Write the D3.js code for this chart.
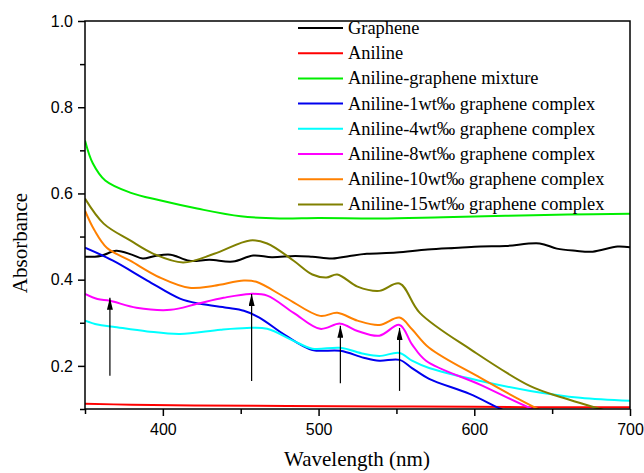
<!DOCTYPE html>
<html lang="en">
<head>
<meta charset="utf-8">
<title>UV-vis absorbance</title>
<script src="https://cdn.jsdelivr.net/npm/d3@7"></script>
<style>
  html, body { margin: 0; padding: 0; background: white; }
  svg text { fill: black; }
</style>
</head>
<body>
<script>
// data
var seriesNames = ["Graphene", "Aniline", "Aniline-graphene mixture",
  "Aniline-1wt\u2030 graphene complex", "Aniline-4wt\u2030 graphene complex",
  "Aniline-8wt\u2030 graphene complex", "Aniline-10wt\u2030 graphene complex",
  "Aniline-15wt\u2030 graphene complex"];
var seriesColors = ["#000000", "#ff0000", "#00ee00", "#0000ee", "#00ffff", "#ff00ff", "#ff8000", "#808000"];

var graphene = [[350,0.453],[360,0.455],[370,0.467],[380,0.458],[387,0.449],[395,0.455],[405,0.458],[417,0.444],[430,0.446],[445,0.442],[458,0.456],[470,0.452],[485,0.455],[496,0.453],[509,0.449],[520,0.455],[531,0.460],[550,0.463],[570,0.470],[590,0.474],[604,0.477],[620,0.478],[642,0.484],[653,0.472],[665,0.467],[676,0.465],[692,0.477],[700,0.475]];
var aniline = [[350,0.112],[380,0.110],[420,0.108],[480,0.107],[540,0.106],[600,0.105],[650,0.104],[700,0.104]];
var mixture = [[350,0.723],[355,0.670],[363,0.630],[379,0.602],[398,0.584],[422,0.565],[450,0.547],[475,0.542],[500,0.543],[539,0.542],[580,0.545],[620,0.548],[660,0.551],[700,0.553]];
var c1 = [[350,0.474],[368,0.444],[390,0.398],[411,0.356],[424,0.344],[441,0.335],[452,0.328],[462,0.312],[479,0.270],[496,0.237],[514,0.235],[529,0.219],[539,0.212],[552,0.214],[560,0.195],[571,0.170],[597,0.135],[617,0.100],[630,0.080]];
var c4 = [[350,0.305],[358,0.296],[368,0.291],[390,0.280],[411,0.274],[437,0.284],[454,0.288],[467,0.286],[484,0.258],[496,0.240],[514,0.242],[529,0.228],[539,0.223],[552,0.230],[560,0.212],[571,0.195],[604,0.165],[636,0.142],[668,0.126],[700,0.119]];
var c8 = [[350,0.367],[358,0.355],[366,0.351],[383,0.335],[405,0.330],[422,0.344],[439,0.358],[456,0.367],[467,0.363],[484,0.323],[501,0.286],[514,0.298],[525,0.281],[539,0.270],[552,0.295],[560,0.250],[569,0.212],[604,0.156],[636,0.102],[650,0.085]];
var c10 = [[350,0.560],[356,0.515],[364,0.474],[379,0.444],[398,0.405],[417,0.381],[433,0.386],[452,0.398],[460,0.395],[479,0.358],[501,0.316],[512,0.323],[525,0.305],[539,0.295],[552,0.312],[560,0.285],[571,0.242],[604,0.172],[627,0.126],[644,0.095],[655,0.080]];
var c15 = [[350,0.588],[362,0.530],[379,0.491],[394,0.460],[413,0.440],[433,0.460],[456,0.491],[467,0.484],[484,0.444],[496,0.412],[505,0.405],[512,0.412],[525,0.384],[539,0.374],[552,0.391],[565,0.323],[599,0.235],[636,0.153],[657,0.126],[681,0.100],[695,0.085]];
var seriesData = [graphene, aniline, mixture, c1, c4, c8, c10, c15];

// arrows: wavelength, tail value, head value
var arrowX = [366, 457, 514, 552];
var arrowFrom = [0.177, 0.165, 0.160, 0.142];
var arrowTo = [0.358, 0.367, 0.293, 0.288];

var xTicks = [400, 500, 600, 700];
var yTicks = [0.2, 0.4, 0.6, 0.8, 1.0];

var w = 644, h = 473;
var mLeft = 85, mRight = 630, mTop = 21, mBottom = 409;

var svg = d3.select("body").append("svg")
  .attr("width", w).attr("height", h);

var x = d3.scaleLinear().domain([350, 700]).range([mLeft, mRight]);
var y = d3.scaleLinear().domain([0.1, 1.0]).range([mBottom, mTop]);

svg.append("clipPath").attr("id", "plotclip")
  .append("rect").attr("x", mLeft).attr("y", mTop)
  .attr("width", mRight - mLeft).attr("height", mBottom - mTop);

// axes
var xAxis = d3.axisBottom(x).tickValues(xTicks).tickSize(7).tickPadding(8).tickFormat(d3.format("d"));
var xMinor = d3.axisBottom(x).tickValues([350, 450, 550, 650]).tickSize(5).tickFormat("");
var yAxis = d3.axisLeft(y).tickValues(yTicks).tickSize(7).tickPadding(5).tickFormat(d3.format(".1f"));
var yMinor = d3.axisLeft(y).tickValues([0.1, 0.3, 0.5, 0.7, 0.9]).tickSize(5).tickFormat("");

function styleAxis(g) {
  g.select(".domain").remove();
  g.selectAll("line").attr("stroke", "black").attr("stroke-width", 1.5);
  g.selectAll("text").attr("font-family", "Liberation Sans, Arial, sans-serif")
    .attr("font-size", 16).attr("fill", "black");
}

svg.append("g").attr("transform", "translate(0," + mBottom + ")").call(xAxis).call(styleAxis);
svg.append("g").attr("transform", "translate(0," + mBottom + ")").call(xMinor).call(styleAxis);
svg.append("g").attr("transform", "translate(" + mLeft + ",0)").call(yAxis).call(styleAxis);
svg.append("g").attr("transform", "translate(" + mLeft + ",0)").call(yMinor).call(styleAxis);

// axis titles
svg.append("text")
  .attr("x", 357).attr("y", 466)
  .attr("text-anchor", "middle")
  .attr("font-family", "Liberation Serif, Times New Roman, serif")
  .attr("font-size", 21)
  .text("Wavelength (nm)");

svg.append("text")
  .attr("transform", "translate(27,243) rotate(-90)")
  .attr("text-anchor", "middle")
  .attr("font-family", "Liberation Serif, Times New Roman, serif")
  .attr("font-size", 21)
  .text("Absorbance");

// curves
var line = d3.line()
  .x(function(d) { return x(d[0]); })
  .y(function(d) { return y(d[1]); })
  .curve(d3.curveCatmullRom.alpha(0.5));

svg.append("g").attr("clip-path", "url(#plotclip)")
  .selectAll("path")
  .data(seriesData)
  .enter()
  .append("path")
  .attr("d", line)
  .attr("fill", "none")
  .attr("stroke", function(d, i) { return seriesColors[i]; })
  .attr("stroke-width", 2);

// frame
svg.append("rect")
  .attr("x", mLeft).attr("y", mTop)
  .attr("width", mRight - mLeft).attr("height", mBottom - mTop)
  .attr("fill", "none").attr("stroke", "black").attr("stroke-width", 1.5);

// arrows
var defs = svg.append("defs");
defs.append("marker")
  .attr("id", "arrowhead")
  .attr("viewBox", "0 0 12 6")
  .attr("refX", 12).attr("refY", 3)
  .attr("markerWidth", 12).attr("markerHeight", 6)
  .attr("markerUnits", "userSpaceOnUse")
  .attr("orient", "auto")
  .append("path").attr("d", "M0,0 L12,3 L0,6 Z").attr("fill", "black");

svg.selectAll(".arrow")
  .data(arrowX)
  .enter()
  .append("line")
  .attr("class", "arrow")
  .attr("x1", function(d) { return x(d); })
  .attr("x2", function(d) { return x(d); })
  .attr("y1", function(d, i) { return y(arrowFrom[i]); })
  .attr("y2", function(d, i) { return y(arrowTo[i]); })
  .attr("stroke", "black")
  .attr("stroke-width", 1.2)
  .attr("marker-end", "url(#arrowhead)");

// legend
var legX = 298, legY = 28, legStep = 25.2;
var leg = svg.append("g");
seriesNames.forEach(function(name, i) {
  leg.append("line")
    .attr("x1", legX).attr("x2", legX + 45)
    .attr("y1", legY + i * legStep).attr("y2", legY + i * legStep)
    .attr("stroke", seriesColors[i]).attr("stroke-width", 2);
  leg.append("text")
    .attr("x", legX + 50).attr("y", legY + i * legStep)
    .attr("dy", "0.33em")
    .attr("font-family", "Liberation Serif, Times New Roman, serif")
    .attr("font-size", 18.4)
    .text(name);
});
</script>
</body>
</html>
